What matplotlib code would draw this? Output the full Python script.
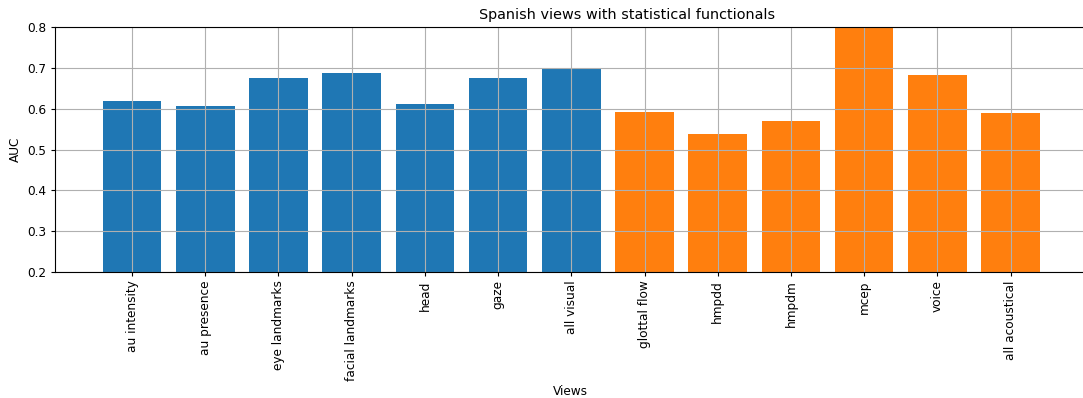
import matplotlib

matplotlib.use("Agg")
import matplotlib.pyplot as plt

# AUC per feature view (Spanish, statistical functionals)
visual_views = ["au intensity", "au presence", "eye landmarks", "facial landmarks",
                "head", "gaze", "all visual"]
visual_auc = [0.619, 0.607, 0.675, 0.688, 0.612, 0.675, 0.697]

acoustic_views = ["glottal flow", "hmpdd", "hmpdm", "mcep", "voice", "all acoustical"]
acoustic_auc = [0.593, 0.538, 0.570, 0.82, 0.682, 0.589]


def main():
    fs = 8.7
    fig = plt.figure(figsize=(10.83, 3.98), dpi=100)
    W, H = 1083, 398
    # axes runs just past the right edge of the canvas
    ax = fig.add_axes([55 / W, (H - 272) / H, (1086 - 55) / W, 245 / H])

    xv = list(range(len(visual_views)))
    xa = [len(visual_views) + i for i in range(len(acoustic_views))]
    ax.bar(xv, visual_auc, color="#1f77b4")
    ax.bar(xa, acoustic_auc, color="#ff7f0e")

    ax.set_xticks(xv + xa)
    ax.set_xticklabels(visual_views + acoustic_views, rotation=90)
    ax.tick_params(labelsize=fs, length=3, pad=3)
    ax.set_xlim(-1.052, 13.03)
    ax.set_ylim(0.2, 0.8)
    ax.grid(True)
    ax.set_xlabel("Views", fontsize=fs, labelpad=3)
    ax.set_ylabel("AUC", fontsize=fs, labelpad=4)
    ax.set_title("Spanish views with statistical functionals", fontsize=10.4, pad=6,
                 x=(627 - 55) / (1086 - 55))

    fig.savefig("out.png", dpi=100)


if __name__ == "__main__":
    main()
